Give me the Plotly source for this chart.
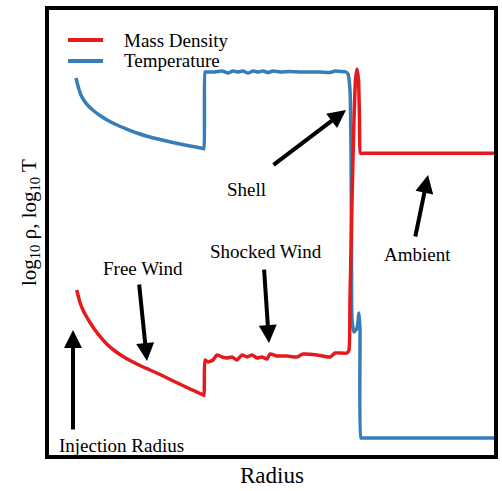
import plotly.graph_objects as go

# Radial profiles of a wind-blown bubble (arbitrary log units)
temp_r = [0.646, 0.679, 0.713, 0.757, 0.824, 0.913, 1.031, 1.180, 1.359, 1.559, 1.775,
          2.004, 2.249, 2.517, 2.851, 3.185, 3.481,
          3.497, 3.519, 3.541, 3.742, 3.898, 4.031, 4.143, 4.254, 4.365, 4.477, 4.588,
          4.699, 4.811, 4.922, 5.033, 5.189, 5.412, 5.635, 5.857, 6.080, 6.303, 6.414,
          6.526, 6.659, 6.704, 6.748, 6.771, 6.782, 6.793, 6.837, 6.904, 6.949, 6.971,
          6.993, 7.038, 10.0]
temp_logT = [8.441, 8.307, 8.185, 8.062, 7.940, 7.829, 7.717, 7.606, 7.494, 7.394, 7.305,
             7.216, 7.138, 7.071, 6.993, 6.927, 6.871,
             6.866, 8.575, 8.575, 8.575, 8.597, 8.552, 8.597, 8.575, 8.597, 8.552, 8.597,
             8.575, 8.597, 8.563, 8.597, 8.575, 8.586, 8.575, 8.575, 8.575, 8.563, 8.597,
             8.586, 8.575, 8.530, 8.174, 6.837, 4.610, 3.051, 2.784, 2.873, 3.207, 2.829,
             0.423, 0.423, 0.423]

dens_r = [0.661, 0.702, 0.735, 0.791, 0.846, 0.958, 1.069, 1.180, 1.330, 1.514, 1.693,
          1.871, 2.071, 2.294, 2.517, 2.813, 3.140, 3.481,
          3.497, 3.519, 3.586, 3.697, 3.786, 3.898, 4.009, 4.120, 4.232, 4.343, 4.454,
          4.566, 4.677, 4.788, 4.900, 4.967, 5.122, 5.345, 5.568, 5.702, 6.013, 6.303,
          6.414, 6.682, 6.726, 6.748, 6.793, 6.837, 6.871, 6.904, 6.938, 6.960, 6.982,
          7.038, 10.0]
dens_logrho = [3.719, 3.563, 3.441, 3.296, 3.185, 2.996, 2.829, 2.684, 2.517, 2.361, 2.238,
               2.138, 2.038, 1.938, 1.837, 1.693, 1.537, 1.381,
               1.375, 2.160, 2.116, 2.160, 2.272, 2.227, 2.205, 2.227, 2.160, 2.272, 2.227,
               2.272, 2.205, 2.227, 2.183, 2.294, 2.249, 2.249, 2.227, 2.294, 2.272, 2.227,
               2.316, 2.316, 2.383, 3.497, 5.724, 7.506, 8.396, 8.641, 8.396, 7.506, 6.764,
               6.764, 6.764]

# Labelled regions: text position, arrow tail and arrow tip
region_labels = ["Shell", "Shocked Wind", "Free Wind", "Injection Radius", "Ambient"]
label_x = [4.432, 4.878, 2.138, 1.648, 8.241]
label_y = [5.947, 4.588, 4.209, 0.267, 4.521]
tail_x = [5.011, 4.833, 2.049, 0.579, 8.196]
tail_y = [6.481, 4.209, 3.875, 0.579, 4.878]
tip_x = [6.659, 4.944, 2.227, 0.579, 8.486]
tip_y = [7.728, 2.539, 2.138, 2.829, 6.281]

series_names = ["Mass Density", "Temperature"]
series_colors = ["#E41A1C", "#377EB8"]

FONT = "Liberation Serif"

fig = go.Figure()
fig.add_trace(go.Scatter(x=temp_r, y=temp_logT, mode="lines", name=series_names[1],
                         line=dict(color=series_colors[1], width=3.5,
                                   shape="spline", smoothing=0.5)))
fig.add_trace(go.Scatter(x=dens_r, y=dens_logrho, mode="lines", name=series_names[0],
                         line=dict(color=series_colors[0], width=3.5,
                                   shape="spline", smoothing=0.5)))

annotations = []
for txt, lx, ly, ax_, ay_, x_, y_ in zip(region_labels, label_x, label_y,
                                           tail_x, tail_y, tip_x, tip_y):
    annotations.append(dict(x=lx, y=ly, xref="x", yref="y", text=txt, showarrow=False,
                            xanchor="center", yanchor="middle",
                            font=dict(family=FONT, size=19, color="black")))
    annotations.append(dict(x=x_, y=y_, ax=ax_, ay=ay_, xref="x", yref="y",
                            axref="x", ayref="y", text="", showarrow=True,
                            arrowhead=2, arrowsize=0.9, arrowwidth=4,
                            arrowcolor="black", standoff=0, startstandoff=0))

# Hand-placed legend
legend_y = [9.287, 8.820]
shapes = []
for name, color, ly in zip(series_names, series_colors, legend_y):
    shapes.append(dict(type="line", xref="x", yref="y", x0=0.468, x1=1.247, y0=ly, y1=ly,
                       line=dict(color=color, width=4)))
    annotations.append(dict(x=1.67, y=ly, xref="x", yref="y", text=name, showarrow=False,
                            xanchor="left", yanchor="middle",
                            font=dict(family=FONT, size=19, color="black")))

# Frame around the plotting area
shapes.append(dict(type="rect", xref="paper", yref="paper", x0=0, x1=1, y0=0, y1=1,
                   line=dict(color="black", width=4), layer="above"))

# Axis titles
annotations.append(dict(x=0.5, y=-0.042, xref="paper", yref="paper", text="Radius",
                        showarrow=False, xanchor="center", yanchor="middle",
                        font=dict(family=FONT, size=23, color="black")))
annotations.append(dict(x=-0.038, y=0.523, xref="paper", yref="paper",
                        text="log<sub>10</sub> ρ, log<sub>10</sub> T", textangle=-90,
                        showarrow=False, xanchor="center", yanchor="middle",
                        font=dict(family=FONT, size=21, color="black")))

fig.update_layout(
    width=502, height=491,
    margin=dict(l=47, r=6, t=8, b=34),
    paper_bgcolor="white", plot_bgcolor="white",
    showlegend=False,
    xaxis=dict(range=[0, 10], showticklabels=False, ticks="", showgrid=False,
               zeroline=False, showline=False),
    yaxis=dict(range=[0, 10], showticklabels=False, ticks="", showgrid=False,
               zeroline=False, showline=False),
    shapes=shapes,
    annotations=annotations,
)

fig.write_html("out.html")
